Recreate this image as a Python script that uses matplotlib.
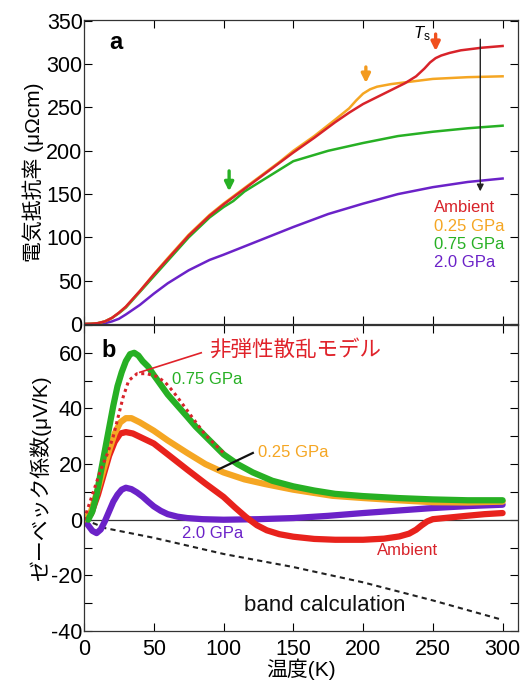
import matplotlib
matplotlib.use("Agg")
import matplotlib.pyplot as plt
from matplotlib.ticker import MultipleLocator

plt.rcParams['font.family'] = ['Liberation Sans', 'Noto Sans CJK JP', 'DejaVu Sans']
plt.rcParams['mathtext.fontset'] = 'custom'
plt.rcParams['mathtext.it'] = 'Liberation Sans:italic'
plt.rcParams['mathtext.rm'] = 'Liberation Sans'
plt.rcParams['axes.unicode_minus'] = False

RED = '#d8232a'
ORANGE = '#f5a623'
GREEN = '#27b024'
PURPLE = '#6b22c8'

# ---- panel a: resistivity (uOhm cm) ----
t_amb = [0, 5, 10, 15, 20, 25, 30, 35, 40, 50, 60, 75, 90, 100, 110, 125, 140, 150, 165, 180,
         190, 200, 210, 220, 230, 238, 244, 248, 252, 256, 262, 270, 285, 300]
r_amb = [0, 0.2, 1, 3, 7, 13, 20, 29, 38, 57, 75, 102, 125, 138, 150, 168, 186, 198, 215, 233,
         244, 254, 262, 270, 278, 286, 295, 302, 307, 310, 313, 316, 319, 321]
t_025 = [0, 5, 10, 15, 20, 25, 30, 35, 40, 50, 60, 75, 90, 100, 110, 125, 140, 150, 165, 180,
         190, 195, 200, 205, 210, 220, 235, 250, 275, 300]
r_025 = [0, 0.2, 1, 3, 7, 13, 20, 29, 38, 57.5, 76, 103, 126, 139, 151, 169, 187, 200, 217, 236,
         249, 258, 266, 271, 274, 277, 280, 283, 285, 286]
t_075 = [0, 5, 10, 15, 20, 25, 30, 35, 40, 50, 60, 75, 90, 100, 107, 115, 125, 140, 150, 175,
         200, 225, 250, 275, 300]
r_075 = [0, 0.2, 1, 3, 7, 12.5, 19, 28, 37, 55, 73, 100, 123, 135, 142, 153, 163, 178, 188, 200,
         209, 217, 222, 226, 229]
t_20 = [0, 10, 15, 20, 25, 30, 40, 50, 60, 75, 90, 100, 125, 150, 175, 200, 225, 250, 275, 300]
r_20 = [0, 0.3, 1, 3, 6, 11, 22, 35, 47, 62, 74, 80, 96, 112, 127, 139, 150, 158, 164, 168]

# ---- panel b: Seebeck coefficient (uV/K) ----
s_t_075 = [3, 6, 9, 12, 15, 18, 21, 24, 27, 30, 33, 36, 39, 42, 46, 50, 55, 60, 67, 74, 80, 87,
           95, 100, 110, 121, 135, 150, 165, 180, 200, 225, 250, 275, 300]
s_075 = [0, 3, 9, 17, 25, 33, 41, 48, 53, 57, 59.5, 60, 59, 57, 55, 52, 48.5, 45, 41, 37, 33.5, 30,
         26, 23.5, 20, 17, 14, 12, 10.5, 9.3, 8.5, 7.8, 7.3, 7.0, 7.0]
s_t_025 = [0, 5, 10, 14, 18, 22, 26, 30, 34, 40, 50, 60, 74, 87, 100, 115, 130, 150, 178, 200,
           225, 250, 275, 300]
s_025 = [0, 3, 11, 18, 25, 31, 35, 36.5, 36.5, 35, 32, 28.5, 24, 20, 17, 14.5, 12.8, 10.8, 8.6,
         7.8, 7, 6.3, 6.2, 6.5]
s_t_amb = [0, 5, 10, 14, 18, 22, 26, 30, 35, 40, 50, 60, 74, 87, 100, 108, 116, 124, 131, 140,
           150, 165, 180, 200, 215, 226, 233, 238, 242, 246, 250, 262, 274, 287, 300]
s_amb = [0, 2, 9, 16, 23, 28, 31, 31.5, 31, 29.8, 27.4, 23.5, 18, 13, 8.2, 4.5, 1, -2, -3.8, -5.2,
         -6.1, -6.9, -7.2, -7.2, -6.8, -6.0, -5, -3.6, -2, -0.6, 0.2, 0.8, 1.4, 2.0, 2.4]
s_t_20 = [0, 3, 6, 9, 12, 15, 18, 21, 24, 27, 30, 34, 38, 42, 46, 50, 55, 60, 67, 74, 85, 100,
          125, 150, 175, 200, 225, 250, 275, 300]
s_20 = [0, -2, -4, -4.8, -3.5, -0.5, 3, 6.5, 9, 10.8, 11.5, 11, 9.8, 8.3, 6.5, 4.8, 3.2, 2, 1.1,
        0.6, 0.2, 0, 0.2, 0.6, 1.4, 2.4, 3.3, 4.2, 4.9, 5.4]
s_t_model = [0, 4, 8, 12, 17, 21, 24, 28, 32, 38, 45, 52, 58, 64, 70, 78, 87, 100]
s_model = [0, 6, 12, 18, 24, 30, 36, 44, 50, 52.5, 52.5, 51.5, 49.5, 46, 42, 36.5, 30.5, 24]
s_t_band = [0, 8, 15, 30, 50, 100, 150, 200, 250, 300]
s_band = [0, -1.5, -3, -4.5, -6.5, -12.3, -17, -22.5, -29, -36]

fig = plt.figure(figsize=(5.26, 6.83), dpi=100)
ax1 = fig.add_axes([0.1597, 0.5256, 0.825, 0.4451])
ax2 = fig.add_axes([0.1597, 0.0761, 0.825, 0.4481])

for ax in (ax1, ax2):
    ax.set_xlim(0, 311)
    ax.xaxis.set_major_locator(MultipleLocator(50))
    ax.tick_params(direction='in', top=True, right=True, length=6, width=0.8,
                   labelsize=15.5, pad=1)
    ax.tick_params(which='minor', direction='in', right=True, length=6, width=0.8)
    for s in ax.spines.values():
        s.set_linewidth(0.9)
        s.set_color('#333333')

# panel a
ax1.plot(t_20, r_20, color=PURPLE, lw=1.8)
ax1.plot(t_075, r_075, color=GREEN, lw=1.8)
ax1.plot(t_025, r_025, color=ORANGE, lw=1.8)
ax1.plot(t_amb, r_amb, color=RED, lw=1.8)
ax1.set_ylim(0, 351)
ax1.yaxis.set_major_locator(MultipleLocator(50))
ax1.tick_params(labelbottom=False)
ax1.set_ylabel('電気抵抗率 (μΩcm)', fontsize=15, labelpad=2)

ax1.text(23, 325, 'a', fontsize=17, fontweight='bold', ha='center', va='center')
ax1.annotate('', xy=(104, 150), xytext=(104, 180),
             arrowprops=dict(arrowstyle='-|>', color=GREEN, lw=2.4, mutation_scale=13))
ax1.annotate('', xy=(202, 275), xytext=(202, 300),
             arrowprops=dict(arrowstyle='-|>', color='#f39a1e', lw=2.4, mutation_scale=13))
ax1.annotate('', xy=(252, 312), xytext=(252, 338),
             arrowprops=dict(arrowstyle='-|>', color='#f0501e', lw=2.4, mutation_scale=13))
ax1.annotate('', xy=(284, 150), xytext=(284, 332),
             arrowprops=dict(arrowstyle='-|>', color='#222222', lw=1.0, mutation_scale=10))
ax1.text(242, 335, '$T_\\mathrm{s}$', fontsize=12, ha='center', va='center')

lab_y = [135, 113, 92, 71]
lab_txt = ['Ambient', '0.25 GPa', '0.75 GPa', '2.0 GPa']
lab_col = [RED, ORANGE, GREEN, PURPLE]
for y, s, c in zip(lab_y, lab_txt, lab_col):
    ax1.text(251, y, s, color=c, fontsize=12, ha='left', va='center')

# panel b
ax2.axhline(0, color='#333333', lw=0.9)
ax2.plot(s_t_band, s_band, color='#222222', lw=1.5, ls=(0, (2.5, 2)))
ax2.plot(s_t_20, s_20, color=PURPLE, lw=4.5, solid_capstyle='round', solid_joinstyle='round')
ax2.plot(s_t_amb, s_amb, color='#e8221c', lw=4.5, solid_capstyle='round', solid_joinstyle='round')
ax2.plot(s_t_025, s_025, color=ORANGE, lw=4.5, solid_capstyle='round', solid_joinstyle='round')
ax2.plot(s_t_075, s_075, color=GREEN, lw=4.5, solid_capstyle='round', solid_joinstyle='round')
ax2.plot(s_t_model, s_model, color='#d8232a', lw=2.2, ls=(0, (1, 1.2)))
ax2.set_ylim(-40, 70)
ax2.yaxis.set_major_locator(MultipleLocator(20))
ax2.yaxis.set_minor_locator(MultipleLocator(10))
ax2.xaxis.set_minor_locator(MultipleLocator(50))
ax2.tick_params(axis='x', pad=6)
ax2.set_ylabel('ゼーベック係数(μV/K)', fontsize=15, labelpad=0)
ax2.set_xlabel('温度(K)', fontsize=15, labelpad=-1)

ax2.text(18, 61, 'b', fontsize=17, fontweight='bold', ha='center', va='center')
ax2.text(90, 61, '非弾性散乱モデル', color='#e0222a', fontsize=15.5, ha='left', va='center')
ax2.plot([40, 84], [53, 60], color='#e0222a', lw=1.2)
ax2.text(63, 50.5, '0.75 GPa', color=GREEN, fontsize=12, ha='left', va='center')
ax2.text(125, 24, '0.25 GPa', color=ORANGE, fontsize=12, ha='left', va='center')
ax2.plot([96, 121], [18, 24], color='#111111', lw=1.6)
ax2.text(70, -5, '2.0 GPa', color=PURPLE, fontsize=12, ha='left', va='center')
ax2.text(210, -11, 'Ambient', color=RED, fontsize=12, ha='left', va='center')
ax2.text(115, -31, 'band calculation', color='#111111', fontsize=16, ha='left', va='center')

fig.savefig('out.png', dpi=100)
